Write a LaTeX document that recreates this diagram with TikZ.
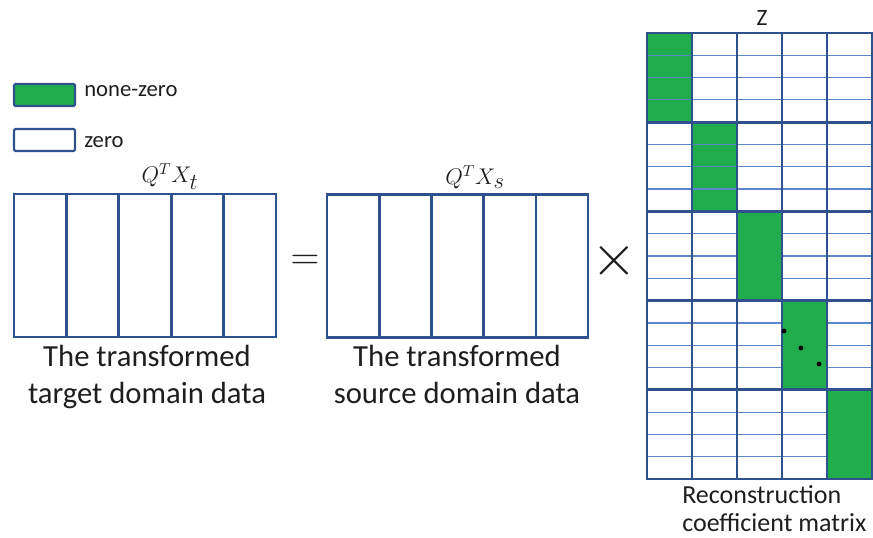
\RequirePackage{fix-cm}
\documentclass[tikz,border=0pt]{standalone}
\usepackage{fontspec}
\setmainfont{Carlito}
\usetikzlibrary{positioning}
\definecolor{matblue}{RGB}{47,82,143}
\definecolor{rowblue}{RGB}{91,135,200}
\definecolor{nzgreen}{RGB}{33,173,76}
\definecolor{txt}{RGB}{30,30,30}

\begin{document}
\begin{tikzpicture}[x=0.75pt, y=-0.75pt,
  legbox/.style={draw=matblue, line width=1.6pt, rounded corners=1pt, minimum width=45.75pt, minimum height=16.5pt, inner sep=0pt},
  col/.style={draw=matblue, line width=1.9pt, minimum width=39.2pt, minimum height=107pt, inner sep=0pt},
  cell/.style={draw=rowblue, line width=0.9pt, minimum width=33.75pt, minimum height=16.725pt, inner sep=0pt},
  blk/.style={draw=matblue, line width=2.2pt, minimum width=33.75pt, minimum height=66.9pt, inner sep=0pt},
  lab/.style={text=txt, inner sep=0pt, font=\fontsize{17}{20}\selectfont},
  captext/.style={text=txt, inner sep=0pt, align=center, font=\fontsize{23}{27.75}\selectfont},
  op/.style={text=txt, inner sep=0pt, font=\fontsize{30}{30}\selectfont},
  dot/.style={circle, fill=black, inner sep=0pt, minimum size=3.6pt}]
  \useasboundingbox (0,0) rectangle (873,538);

  % legend
  \node[legbox, fill=nzgreen] (nzbox) at (44.5,95) {};
  \node[lab, anchor=base west] (nzlab) at (84,97) {none-zero};
  \node[legbox, fill=white] (zbox) at (44.5,140) {};
  \node[lab, anchor=base west] (zlab) at (84,148) {zero};

  % target and source data
  \foreach \k in {1,...,5}
    \node[col] (t\k) at ({40.2+52.4*(\k-1)},265.5) {};
  \foreach \k in {1,...,5}
    \node[col] (s\k) at ({353.1+52.2*(\k-1)},266) {};
  \node[lab, anchor=base] (tname) at (170,183) {$Q^{T}X_{\textstyle t}$};
  \node[lab, anchor=base] (sname) at (475,185) {$Q^{T}X_{\textstyle s}$};
  \node[captext, anchor=base] (tcap) at (147,403) {The transformed\\target domain data};
  \node[captext, anchor=base] (scap) at (457,403) {The transformed\\source domain data};
  \node[op] (eq) at (305,262) {$=$};
  \node[op, font=\fontsize{44}{44}\selectfont] (times) at (614,261) {$\times$};

  % coefficient matrix Z
  \foreach \c in {0,...,4}
    \foreach \r in {0,...,19} {
      \pgfmathtruncatemacro{\b}{\r/4}
      \def\cellfill{white}\def\celldraw{rowblue}
      \ifnum\b=\c \def\cellfill{nzgreen}\ifnum\c>1 \def\celldraw{nzgreen}\fi\fi
      \node[cell, fill=\cellfill, draw=\celldraw] (z\c-\r) at ({669.5+45*\c},{44.15+22.3*\r}) {};
    }
  \foreach \c in {0,...,4}
    \foreach \b in {0,...,4}
      \node[blk] (blk\c-\b) at ({669.5+45*\c},{77.6+89.2*\b}) {};
  \node[dot] (d1) at (784,331) {};
  \node[dot] (d2) at (801,348) {};
  \node[dot] (d3) at (819,364) {};
  \node[lab, anchor=base, font=\fontsize{17.5}{20}\selectfont] (zname) at (762,26) {Z};
  \node[lab, anchor=base west, align=left, font=\fontsize{19.5}{21}\selectfont] (zcap) at (682,531) {Reconstruction\\coefficient matrix};
\end{tikzpicture}
\end{document}
